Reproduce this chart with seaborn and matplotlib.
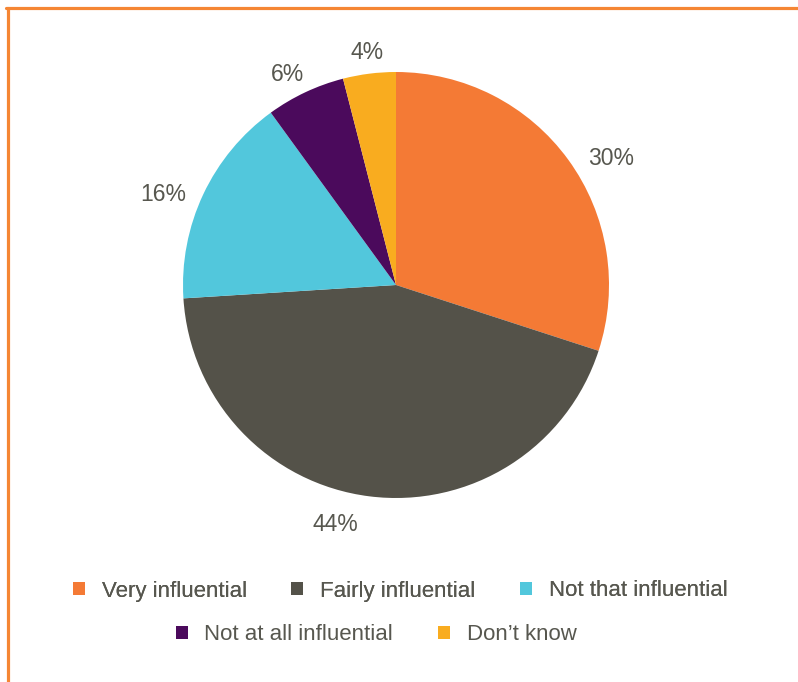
import numpy as np
import matplotlib
matplotlib.use("Agg")
import matplotlib.pyplot as plt
from matplotlib.patches import Patch
from matplotlib.lines import Line2D
import seaborn as sns

categories = ["Very influential", "Fairly influential", "Not that influential",
              "Not at all influential", "Don\u2019t know"]
shares = [30, 44, 16, 6, 4]
colors = ["#F47A35", "#545249", "#52C7DC", "#4B0A5C", "#F9AC1F"]

sns.set_theme(style="white")
plt.rcParams["font.family"] = ["Liberation Sans", "DejaVu Sans"]

TEXT = "#57574F"
W, H = 798, 682
fig = plt.figure(figsize=(W / 100, H / 100), dpi=100)
fig.patch.set_facecolor("white")

# pie axes: centre (396, 285), radius 213 px
r = 213
ax = fig.add_axes([(396 - r) / W, (H - 285 - r) / H, 2 * r / W, 2 * r / H])
wedges, _ = ax.pie(shares, colors=colors, startangle=90, counterclock=False,
                   radius=1.0, wedgeprops=dict(linewidth=0))
ax.set_xlim(-1, 1)
ax.set_ylim(-1, 1)
ax.set_aspect("equal")
ax.axis("off")

# percentage labels outside the wedges
label_radius = [1.17, 1.16, 1.17, 1.11, 1.10]
angle_shift = [-5.5, -7.0, 4.0, 2.0, 0.0]
for w, v, rad, dth in zip(wedges, shares, label_radius, angle_shift):
    mid = np.deg2rad((w.theta1 + w.theta2) / 2 + dth)
    ax.text(rad * np.cos(mid), rad * np.sin(mid), f"{v}%", ha="center",
            va="center", fontsize=16.5, color=TEXT, clip_on=False)

# legend in two centred rows
handles = [Patch(facecolor=c, edgecolor="none") for c in colors]
leg_kw = dict(frameon=False, fontsize=16, labelcolor=TEXT, handlelength=0.55,
              handleheight=0.55, handletextpad=0.75, columnspacing=2.0,
              borderaxespad=0, borderpad=0)
leg1 = fig.legend(handles[:3], categories[:3], ncol=3, loc="center",
                  bbox_to_anchor=(400 / W, 1 - 591 / H), **leg_kw)
fig.add_artist(leg1)
fig.legend(handles[3:], categories[3:], ncol=2, loc="center",
           bbox_to_anchor=(376 / W, 1 - 635 / H), **leg_kw)

# orange frame on the top and left edges
frame = "#F58634"
y0 = 1 - 7.5 / H
x0 = 7.5 / W
fig.add_artist(Line2D([6 / W, 1], [y0, y0], color=frame, lw=2.3,
                      transform=fig.transFigure))
fig.add_artist(Line2D([x0, x0], [0, y0], color=frame, lw=2.3,
                      transform=fig.transFigure))

fig.savefig("out.png", dpi=100)
